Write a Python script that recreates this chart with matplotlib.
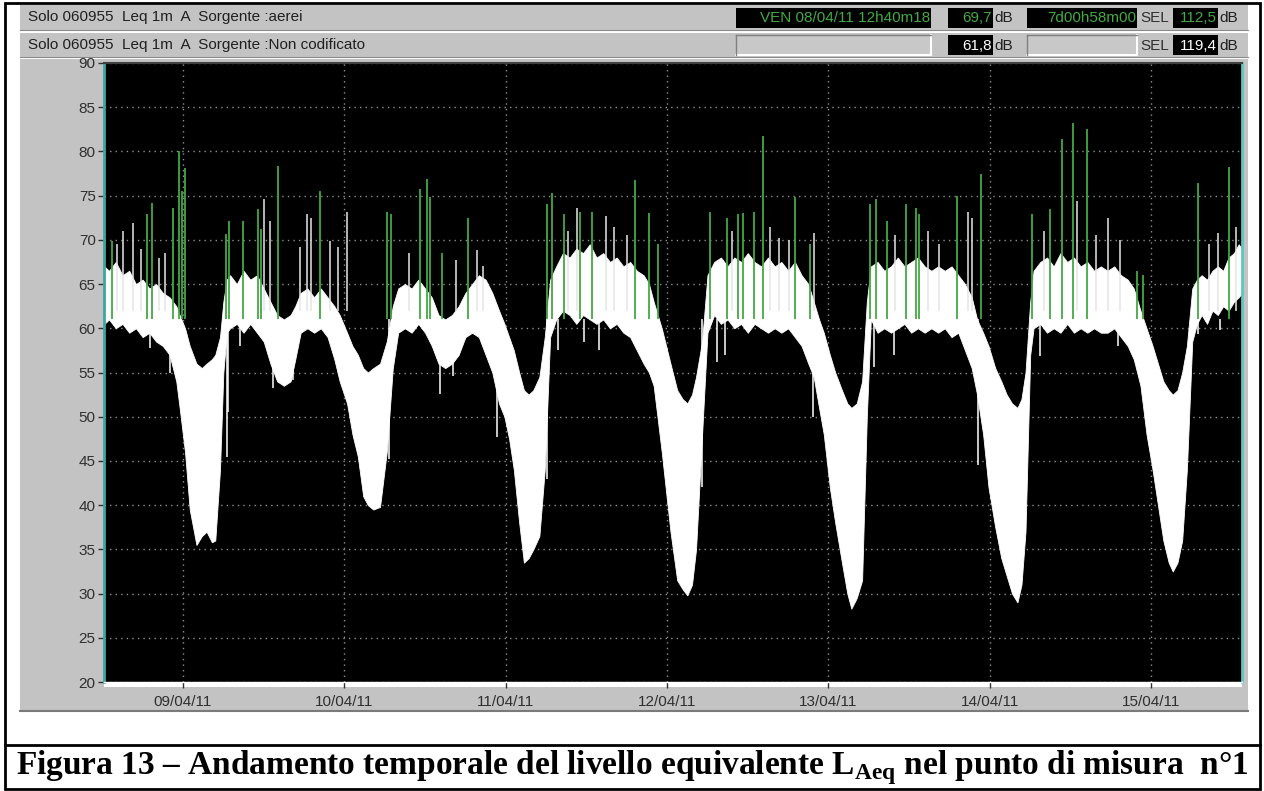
import numpy as np
import matplotlib.pyplot as plt
from matplotlib.patches import Rectangle

plt.rcParams['font.family'] = ['Liberation Sans', 'DejaVu Sans']
plt.rcParams['mathtext.fontset'] = 'custom'
plt.rcParams['mathtext.rm'] = 'Liberation Serif:bold'
plt.rcParams['mathtext.bf'] = 'Liberation Serif:bold'

# time axis: hours from 08/04/11 00:00
# white band of the Leq 1m ("Non codificato"), upper and lower envelope
band_t = [12.3, 13, 14, 15, 16, 17, 18, 19, 20, 21, 22, 23,
          23.5, 24.3, 25, 26, 26.8, 27.5, 28.3, 28.8, 29.5, 30, 30.5,
          31, 32, 33, 34, 35, 36, 37, 38, 39, 40, 40.7, 41.5, 42.5, 43.5, 44.5, 45.5, 46.5, 47.3,
          48.4, 49.2, 50, 50.8, 51.5, 52.3, 53.3, 54.3, 55.2, 56,
          57, 58, 59, 60, 61, 62, 63, 64, 65, 66, 67, 68, 69, 70,
          71, 71.8, 72.5, 73.2, 74, 74.7, 75.4, 76.1, 77, 77.8, 78.6,
          79.5, 80.5, 81.5, 82.5, 83.5, 84.5, 85.5, 86.5, 87.5, 88.5, 89.5, 90.5, 91.5, 92.5, 93.3,
          94, 95.2, 96.5, 97.5, 98.3, 99, 99.7, 100.3, 101.2, 102,
          103, 104, 105, 106, 107, 108, 109, 110, 111, 112, 113, 114, 115, 116, 117,
          117.8, 118.6, 119.3, 120.2, 121, 122, 122.8, 123.4, 124.2, 125, 125.7,
          126.3, 127.3, 128.3, 129.3, 130.3, 131.3, 132.3, 133.3, 134.3, 135.3, 136.3, 137.3, 138.3, 139.3, 140.3, 141.3,
          142.1, 143, 143.8, 144.8, 145.7, 146.5, 147.3, 148.1, 148.7, 149.3, 150,
          150.5, 151.5, 152.5, 153.5, 154.5, 155.5, 156.5, 157.5, 158.5, 159.5, 160.5, 161.5, 162.5, 163.5, 164.5, 165.4,
          166.4, 167.3, 168.2, 169, 169.8, 170.6, 171.2, 171.9, 172.6, 173.3, 174.1,
          174.8, 175.5, 176.3, 177.1, 177.9, 178.7, 179.5, 180.3, 181, 181.5]
band_upper = [67, 66.5, 67.5, 66, 66.5, 65, 65.5, 64.5, 65, 64, 63.5, 62.5,
              61.5, 60, 58, 56, 55.5, 56, 56.5, 57, 59, 63, 65.5,
              66, 65, 66.5, 65.5, 66, 64.5, 63, 61.5, 61, 61.5, 62.5, 64, 64.5, 63.5, 64.5, 63.5, 62.5, 61.5,
              59.5, 58, 57, 55.5, 55, 55.5, 56, 58.5, 62.5, 64.5,
              65, 64.5, 65.5, 64.5, 63.5, 61.5, 61, 61.5, 62.5, 64, 65, 66, 65.5, 64,
              62, 60.5, 59, 57.5, 55, 53, 52.5, 53, 54.5, 59, 65.5,
              67, 68.5, 68, 69, 68.5, 69.5, 68, 68.5, 67.5, 68, 67, 67.5, 66.5, 66, 65,
              63, 60, 56, 53, 52, 51.5, 52.5, 54.5, 58.5, 66,
              67.5, 68, 67, 68, 67.5, 68.5, 67.5, 67, 68, 67, 67.5, 66.5, 67.5, 66, 65,
              63, 61, 59.5, 57, 55, 53, 51.5, 51, 51.5, 54, 63,
              67, 67.5, 66.5, 67, 68, 67, 67.5, 68, 67, 66.5, 67, 66.5, 67, 66, 65, 63.5,
              61, 59.5, 58, 55.5, 54, 52.5, 51.5, 51, 52, 55, 63,
              66.5, 67.5, 68, 67, 68.5, 67.5, 68, 67, 67.5, 66.5, 67, 66.5, 67, 66, 65.5, 64.5,
              62, 60, 58, 56, 54, 53, 52.5, 53, 55, 58, 64.5,
              65.5, 66, 65.5, 66.5, 67, 66.5, 68, 68.5, 69.5, 69]
band_lower = [60.5, 61, 60, 60.5, 59.5, 60, 59, 59.5, 58.5, 58, 57, 54,
              51, 46, 39.5, 35.5, 36.5, 37, 35.8, 36, 44, 55, 59.5,
              60, 60.5, 59.5, 60.5, 59.5, 58.5, 56, 54, 53.5, 54, 56.5, 59.5, 60, 59.5, 60, 59, 56.5, 54,
              51.5, 48, 45.5, 41, 40, 39.5, 39.8, 46, 55.5, 59.5,
              60, 59.5, 60.5, 59.5, 58, 56, 55.5, 56, 57, 59, 59.5, 59, 57, 55,
              51.5, 50, 47.5, 44, 38, 33.5, 34, 35, 36.5, 44, 59,
              61, 62, 61.5, 60.5, 61.5, 61, 60.5, 61, 60, 60.5, 59.5, 59, 57.5, 56, 55,
              53.5, 46, 37, 31.5, 30.5, 29.8, 31, 35, 48, 59.5,
              61.5, 60.5, 61, 60, 60.5, 59.5, 60.5, 60, 59.5, 60, 59.5, 60, 59, 58, 56,
              54.5, 51, 48, 42, 38, 33.5, 30, 28.3, 29.5, 31.5, 50,
              61, 59.5, 60, 59.5, 60, 60.5, 59.5, 60, 59.5, 60, 59.5, 60, 59, 59.5, 57.5, 55.5,
              52.5, 48, 42, 37.5, 34, 32, 30, 29, 31, 37, 57,
              60, 60.5, 59.5, 60, 59.5, 60.5, 59.5, 60, 59.5, 60, 59.5, 59.5, 60, 59, 58, 56.5,
              53.5, 48, 44, 40, 36, 33.5, 32.5, 33.5, 36, 44, 58.5,
              60.5, 61.5, 60.5, 62, 61.5, 62.5, 62, 63, 63.5, 64]

# aircraft events ("aerei"), green peaks
aerei_t = [13.4, 18.6, 19.4, 22.5, 23.4, 23.8, 24.3, 30.4, 30.9, 32.9, 35.2, 35.6, 38.1, 44.4,
           54.3, 54.9, 59.3, 60.3, 60.7, 62.5, 66.4,
           78.2, 78.9, 80.6, 83.1, 84.8, 91.2, 93.3, 94.7, 102.4, 104.9, 106.6, 107.3, 108.9,
           110.3, 115.0, 117.3,
           126.2, 127.0, 128.7, 131.6, 133.0, 133.5, 139.1, 142.7, 150.3, 153.0, 154.8, 156.3,
           158.4, 165.9, 166.8, 174.9, 179.5]
aerei_db = [69.9, 72.9, 74.2, 73.6, 80.0, 75.5, 78.1, 70.7, 72.1, 72.1, 73.5, 71.2, 78.3, 75.5,
            73.2, 72.9, 75.8, 76.9, 74.8, 68.5, 72.5,
            74.1, 75.3, 72.9, 73.2, 73.2, 76.8, 73.0, 69.5, 73.2, 72.5, 72.9, 73.0, 73.2,
            81.7, 74.8, 69.5,
            74.0, 74.6, 72.1, 74.0, 73.6, 72.9, 75.0, 77.4, 72.9, 73.5, 81.4, 83.2,
            82.5, 66.5, 66.0, 76.4, 78.2]

# single white minutes sticking out above the band
peak_up_t = [14.2, 15.1, 16.6, 17.8, 20.4, 21.3, 36.1, 36.9, 41.4, 42.4, 43.0, 45.9, 47.0, 48.4,
             57.6, 64.6, 67.7, 68.6, 81.2, 82.6, 86.9, 88.1, 90.0, 105.6, 111.3, 112.6, 114.2,
             117.9, 129.9, 134.8, 136.4, 140.8, 141.4, 152.0, 156.9, 159.8, 161.6, 163.4,
             176.6, 178.0, 180.6]
peak_up_db = [69.5, 71.0, 71.9, 69.0, 68.0, 68.5, 74.6, 72.1, 69.2, 72.9, 72.5, 69.9, 69.2, 73.2,
              68.5, 67.7, 68.8, 67.0, 71.0, 73.6, 72.7, 71.5, 70.5, 71.0, 71.4, 70.2, 70.0,
              70.8, 70.5, 71.0, 69.5, 73.2, 72.5, 71.0, 74.4, 70.5, 72.5, 70.0,
              69.5, 70.8, 71.5]
# single quiet minutes dropping below the band
peak_dn_t = [19.1, 22.0, 30.5, 30.7, 32.5, 37.4, 39.9, 40.4, 54.6, 62.2, 64.2, 70.7, 78.2,
             79.8, 83.7, 85.8, 101.2, 103.4, 104.6, 117.7, 126.7, 129.7, 142.2, 151.5, 163.0,
             174.9, 178.3]
peak_dn_db = [57.8, 55.0, 45.5, 50.5, 58.0, 53.2, 54.0, 54.1, 45.2, 52.6, 54.6, 47.7, 43.0,
              57.5, 58.5, 57.5, 42.0, 56.2, 57.0, 50.0, 55.6, 57.0, 44.5, 56.9, 58.0,
              59.3, 59.8]

day_ticks = [24, 48, 72, 96, 120, 144, 168]
day_labels = ['09/04/11', '10/04/11', '11/04/11', '12/04/11', '13/04/11', '14/04/11', '15/04/11']
db_ticks = [20, 25, 30, 35, 40, 45, 50, 55, 60, 65, 70, 75, 80, 85, 90]

row1_label = 'Solo 060955  Leq 1m  A  Sorgente :aerei'
row2_label = 'Solo 060955  Leq 1m  A  Sorgente :Non codificato'
caption = ('Figura 13 \u2013 Andamento temporale del livello equivalente '
           'L$_{\\mathbf{Aeq}}$ nel punto di misura  n\u00b01')

W, H = 1264, 791
fig = plt.figure(figsize=(W / 100, H / 100), dpi=100)
fig.patch.set_facecolor('white')

# background layer in pixel coordinates for the window chrome
bg = fig.add_axes([0, 0, 1, 1])
bg.set_xlim(0, W)
bg.set_ylim(H, 0)
bg.axis('off')

bg.add_patch(Rectangle((20, 5), 1228, 706, facecolor='#c3c3c3', edgecolor='none'))
bg.plot([20, 1248], [711, 711], color='#7a7a7a', lw=1.5)
bg.plot([20, 1248], [31.5, 31.5], color='white', lw=1.5)
bg.plot([20, 1248], [58, 58], color='white', lw=1.5)
bg.plot([20, 1248], [30, 30], color='#8a8a8a', lw=0.8)
bg.plot([20, 1248], [57, 57], color='#8a8a8a', lw=0.8)

green = '#44a844'
hdr_size = 11
bg.text(28, 17.5, row1_label, fontsize=hdr_size, color='#202020', va='center', ha='left')
bg.text(28, 45, row2_label, fontsize=hdr_size, color='#202020', va='center', ha='left')


def box(x, y, w, txt, col, dark=True):
    if dark:
        bg.add_patch(Rectangle((x, y), w, 20, facecolor='black', edgecolor='none'))
    else:
        bg.add_patch(Rectangle((x, y), w, 20, facecolor='#c8c8c8', edgecolor='none'))
        bg.plot([x, x + w], [y + 20, y + 20], color='white', lw=1.5)
        bg.plot([x + w, x + w], [y, y + 20], color='white', lw=1.5)
        bg.plot([x, x + w], [y, y], color='#808080', lw=1)
        bg.plot([x, x], [y, y + 20], color='#808080', lw=1)
    if txt:
        bg.text(x + w - 1, y + 10.5, txt, fontsize=hdr_size, color=col, va='center', ha='right')


box(736, 8, 195, 'VEN 08/04/11 12h40m18', green)
box(948, 8, 45, '69,7', green)
bg.text(994, 18.5, 'dB', fontsize=hdr_size, color='#202020', va='center', ha='left')
box(1027, 8, 110, '7d00h58m00', green)
bg.text(1140, 18.5, 'SEL', fontsize=hdr_size, color='#303030', va='center', ha='left')
box(1173, 8, 45, '112,5', green)
bg.text(1219, 18.5, 'dB', fontsize=hdr_size, color='#202020', va='center', ha='left')

box(736, 35, 195, '', None, dark=False)
box(948, 35, 45, '61,8', 'white')
bg.text(994, 45.5, 'dB', fontsize=hdr_size, color='#202020', va='center', ha='left')
box(1027, 35, 110, '', None, dark=False)
bg.text(1140, 45.5, 'SEL', fontsize=hdr_size, color='#303030', va='center', ha='left')
box(1173, 35, 45, '119,4', 'white')
bg.text(1219, 45.5, 'dB', fontsize=hdr_size, color='#202020', va='center', ha='left')

# white strip under the plot
bg.add_patch(Rectangle((104, 682), 1138, 5, facecolor='white', edgecolor='none'))

# outer table frame and caption
bg.add_patch(Rectangle((5, 3), 1255, 786, facecolor='none', edgecolor='black', lw=2))
bg.plot([5, 1260], [745, 745], color='black', lw=2)
bg.text(632, 768, caption, fontsize=24, family='Liberation Serif', weight='bold',
        ha='center', va='center', color='black')

# the chart
ax = fig.add_axes([104 / W, (H - 682) / H, 1138 / W, 619 / H])
ax.set_facecolor('black')
ax.fill_between(band_t, band_lower, band_upper, color='white', lw=0.6, edgecolor='white', zorder=2)
ax.vlines(peak_up_t, 62, peak_up_db, color='#e6e6e6', lw=1.1, zorder=2)
ax.vlines(peak_dn_t, peak_dn_db, 61, color='white', lw=1.1, zorder=2)
ax.vlines(aerei_t, 61, aerei_db, color=green, lw=1.3, zorder=3)

ax.set_xlim(12.25, 181.5)
ax.set_ylim(20, 90)
ax.set_xticks(day_ticks)
ax.set_xticklabels(day_labels)
ax.set_yticks(db_ticks)
ax.set_yticklabels([str(v) for v in db_ticks])
ax.tick_params(axis='x', length=4, width=1, pad=5, labelsize=11, colors='#303030')
ax.tick_params(axis='y', length=4, width=1, pad=2, labelsize=11, colors='#303030')
ax.set_axisbelow(True)
ax.grid(True, color='#909090', linestyle=(0, (1, 3)), lw=1)
ax.spines['left'].set_color('#3aa89e')
ax.spines['left'].set_linewidth(2)
ax.spines['right'].set_color('#5cc8c0')
ax.spines['right'].set_linewidth(2)
ax.spines['top'].set_color('#404040')
ax.spines['top'].set_linewidth(1.5)
ax.spines['bottom'].set_color('white')
ax.spines['bottom'].set_linewidth(1)

fig.savefig('out.png', dpi=100)
